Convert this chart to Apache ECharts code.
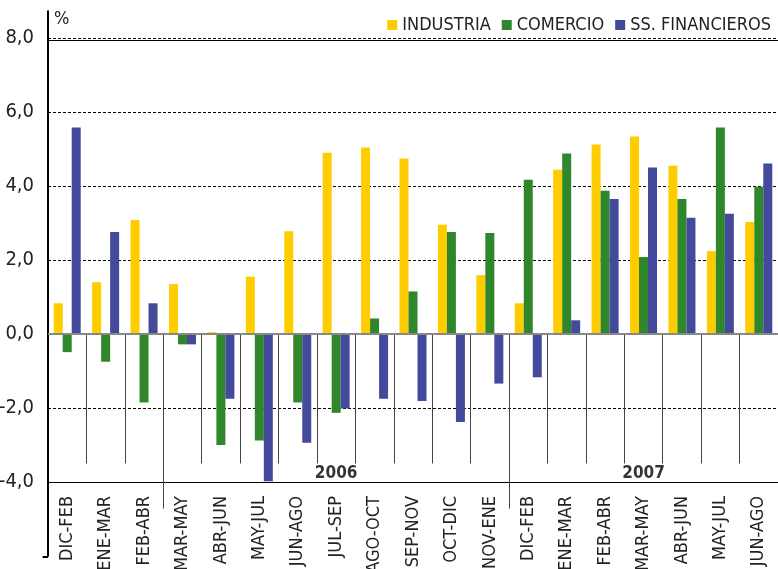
<!DOCTYPE html>
<html>
<head>
<meta charset="utf-8">
<script src="https://cdn.jsdelivr.net/npm/echarts@6/dist/echarts.min.js"></script>
<style>
  html, body { margin: 0; padding: 0; background: #fff; }
  #chart { width: 778px; height: 569px; }
</style>
</head>
<body>
<div id="chart"></div>
<script>
const categories = ['DIC-FEB', 'ENE-MAR', 'FEB-ABR', 'MAR-MAY', 'ABR-JUN', 'MAY-JUL', 'JUN-AGO',
    'JUL-SEP', 'AGO-OCT', 'SEP-NOV', 'OCT-DIC', 'NOV-ENE',
    'DIC-FEB', 'ENE-MAR', 'FEB-ABR', 'MAR-MAY', 'ABR-JUN', 'MAY-JUL', 'JUN-AGO'];

const industria = [0.83, 1.40, 3.08, 1.35, 0.05, 1.55, 2.78, 4.90, 5.04, 4.74, 2.95, 1.59,
    0.83, 4.44, 5.12, 5.34, 4.55, 2.24, 3.03];
const comercio = [-0.49, -0.75, -1.85, -0.28, -3.00, -2.88, -1.85, -2.13, 0.42, 1.15, 2.76, 2.73,
    4.17, 4.88, 3.87, 2.08, 3.65, 5.58, 3.98];
const financieros = [5.58, 2.76, 0.83, -0.28, -1.75, -3.98, -2.94, -2.01, -1.75, -1.81, -2.38, -1.34,
    -1.17, 0.37, 3.65, 4.50, 3.14, 3.25, 4.61];

const seriesNames = ['INDUSTRIA', 'COMERCIO', 'SS. FINANCIEROS'];
const colors = ['#FFCC00', '#30862B', '#434A9B'];

// separadores entre categorias (posicion en el eje auxiliar 0..19)
const separators = [1, 2, 3, 4, 5, 6, 7, 8, 9, 10, 11, 12, 13, 14, 15, 16, 17, 18];
const longSeparators = [3, 12];
const yearLabels = ['2006', '2007'];
const yearPos = [7.5, 15.5];

const FONT = "'Liberation Sans Narrow', 'DejaVu Sans Condensed', 'Arial Narrow', sans-serif";

const sepData = separators.map(p => {
    const bottom = longSeparators.includes(p) ? -4.72 : -3.5;
    return { coords: [[p, 0], [p, bottom]] };
});

const chart = echarts.init(document.getElementById('chart'));

const option = {
    animation: false,
    textStyle: { fontFamily: FONT },
    legend: {
        data: seriesNames,
        top: 11,
        right: 2,
        icon: 'rect',
        itemWidth: 10,
        itemHeight: 10,
        itemGap: 11,
        textStyle: { fontFamily: FONT, fontSize: 18, color: '#222' }
    },
    grid: { left: 48, right: 0, top: 38, bottom: 87, outerBoundsMode: 'none', containLabel: false },
    xAxis: [
        {
            type: 'category',
            data: categories,
            axisLine: { show: true, onZero: false, lineStyle: { color: '#000', width: 1 } },
            axisTick: { show: false },
            axisLabel: {
                rotate: 90,
                margin: 14,
                fontFamily: FONT,
                fontSize: 18,
                color: '#222',
                interval: 0
            }
        },
        { type: 'value', min: 0, max: 19, show: false }
    ],
    yAxis: {
        type: 'value',
        min: -4,
        max: 8,
        interval: 2,
        name: '%',
        nameLocation: 'end',
        nameGap: 10,
        nameTextStyle: { fontFamily: FONT, fontSize: 18, color: '#222', align: 'left', padding: [0, 0, 0, 6] },
        axisLine: { show: false },
        axisTick: { show: false },
        axisLabel: {
            margin: 14,
            fontFamily: FONT,
            fontSize: 20,
            color: '#222',
            formatter: v => v.toFixed(1).replace('.', ',')
        },
        splitLine: { lineStyle: { color: '#000', type: [3, 2], width: 1 } }
    },
    series: [
        {
            name: seriesNames[0], type: 'bar', data: industria, barWidth: 9, barGap: '0%',
            itemStyle: { color: colors[0] },
            markLine: {
                silent: true, symbol: 'none', label: { show: false },
                data: [
                    { yAxis: 0, lineStyle: { color: '#888', type: 'solid', width: 2 } },
                    { yAxis: 7.94, lineStyle: { color: '#000', type: 'solid', width: 1 } }
                ]
            }
        },
        { name: seriesNames[1], type: 'bar', data: comercio, barWidth: 9, barGap: '0%', itemStyle: { color: colors[1] } },
        { name: seriesNames[2], type: 'bar', data: financieros, barWidth: 9, barGap: '0%', itemStyle: { color: colors[2] } },
        {
            type: 'lines', coordinateSystem: 'cartesian2d', xAxisIndex: 1, yAxisIndex: 0,
            clip: false, silent: true,
            lineStyle: { color: '#444', width: 1, opacity: 1 },
            data: sepData
        },
        {
            // eje vertical izquierdo prolongado y su marca inferior
            type: 'lines', coordinateSystem: 'cartesian2d', xAxisIndex: 1, yAxisIndex: 0,
            clip: false, silent: true,
            lineStyle: { color: '#000', width: 2, opacity: 1 },
            data: [
                { coords: [[0, 8.74], [0, -6.02]] },
                { coords: [[-0.14, -6.02], [0, -6.02]] }
            ]
        },
        {
            type: 'scatter', xAxisIndex: 1, yAxisIndex: 0, symbolSize: 0, silent: true,
            label: {
                show: true, position: 'inside', formatter: p => p.name,
                fontFamily: FONT, fontSize: 17, fontWeight: 'bold', color: '#000'
            },
            data: yearLabels.map((y, i) => ({ name: y, value: [yearPos[i], -3.76] }))
        }
    ]
};

chart.setOption(option);
</script>
</body>
</html>
